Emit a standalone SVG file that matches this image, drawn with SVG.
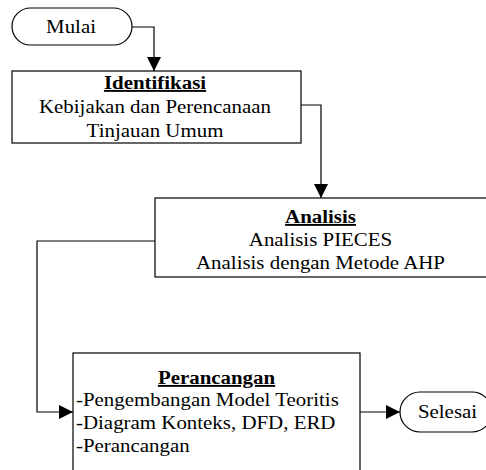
<svg xmlns="http://www.w3.org/2000/svg" width="486" height="470" viewBox="0 0 486 470">
<style>
.box{fill:#fff;stroke:#000;stroke-width:1.2}
.t{font-family:"Liberation Serif","Times New Roman",serif;font-size:19px;fill:#000}
.c{text-anchor:middle}
.h{font-weight:bold;text-decoration:underline}
.ln{fill:none;stroke:#000;stroke-width:1.2}
</style>
<defs>
<marker id="ah" viewBox="0 0 10 10" refX="10" refY="5" markerWidth="14" markerHeight="14" markerUnits="userSpaceOnUse" orient="auto">
<path d="M0,0 L10,5 L0,10 z" fill="#000"/>
</marker>
</defs>
<rect width="486" height="470" fill="#fff"/>
<g id="connectors">
<path class="ln" d="M132,27 H154 V71" marker-end="url(#ah)"/>
<path class="ln" d="M301,105 H321 V198" marker-end="url(#ah)"/>
<path class="ln" d="M155,241 H37 V412 H73" marker-end="url(#ah)"/>
<path class="ln" d="M360,412 H400" marker-end="url(#ah)"/>
</g>
<g id="mulai">
<rect class="box" x="12" y="8" width="120" height="37" rx="18.5"/>
<text class="t c" transform="translate(71,33) scale(1.1,1)">Mulai</text>
</g>
<g id="identifikasi">
<rect class="box" x="12" y="71" width="289" height="72"/>
<text class="t c h" transform="translate(155,89) scale(1.1,1)">Identifikasi</text>
<text class="t c" transform="translate(155,113) scale(1.1,1)">Kebijakan dan Perencanaan</text>
<text class="t c" transform="translate(155,137) scale(1.1,1)">Tinjauan Umum</text>
</g>
<g id="analisis">
<rect class="box" x="155" y="198" width="340" height="79"/>
<text class="t c h" transform="translate(320.5,223) scale(1.1,1)">Analisis</text>
<text class="t c" transform="translate(320.5,246) scale(1.1,1)">Analisis PIECES</text>
<text class="t c" transform="translate(320.5,269) scale(1.1,1)">Analisis dengan Metode AHP</text>
</g>
<g id="perancangan">
<rect class="box" x="73" y="353" width="287" height="130"/>
<text class="t c h" transform="translate(216.5,384) scale(1.1,1)">Perancangan</text>
<text class="t" transform="translate(76,406) scale(1.1,1)">-Pengembangan Model Teoritis</text>
<text class="t" transform="translate(76,429) scale(1.1,1)">-Diagram Konteks, DFD, ERD</text>
<text class="t" transform="translate(76,452) scale(1.1,1)">-Perancangan</text>
</g>
<g id="selesai">
<rect class="box" x="400" y="392" width="92" height="40" rx="20"/>
<text class="t c" transform="translate(447.5,418) scale(1.1,1)">Selesai</text>
</g>
</svg>
